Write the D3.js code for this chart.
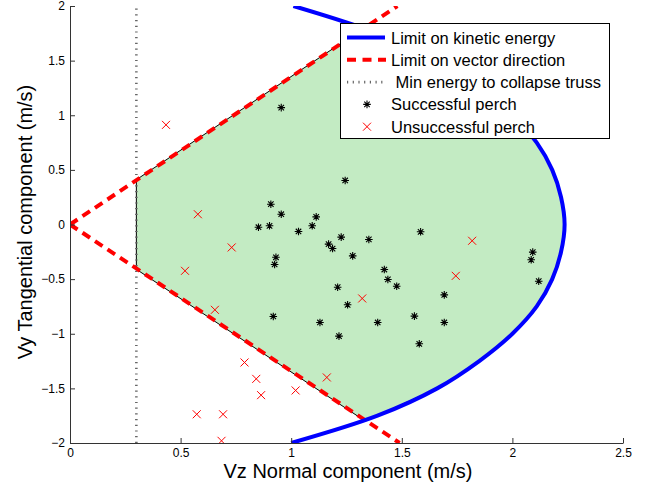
<!DOCTYPE html>
<html>
<head>
<meta charset="utf-8">
<script src="https://cdn.jsdelivr.net/npm/d3@7"></script>
<style>
body { margin: 0; background: #fff; }
svg { display: block; font-family: "Liberation Sans", Arial, sans-serif; }
</style>
</head>
<body>
<svg id="chart"></svg>
<script>
// chart values
var xTicks = [0, 0.5, 1, 1.5, 2, 2.5];
var xTickLabels = ["0", "0.5", "1", "1.5", "2", "2.5"];
var yTicks = [-2, -1.5, -1, -0.5, 0, 0.5, 1, 1.5, 2];
var yTickLabels = ["\u22122", "\u22121.5", "\u22121", "\u22120.5", "0", "0.5", "1", "1.5", "2"];

// limit on kinetic energy (blue)
var energyVy = [-2, -1.75, -1.5, -1.25, -1, -0.75, -0.5, -0.25, 0, 0.25, 0.5, 0.75, 1, 1.25, 1.5, 1.75, 2];
var energyVz = [1.0, 1.39, 1.66, 1.85, 2.0, 2.11, 2.18, 2.22, 2.236, 2.22, 2.18, 2.11, 2.0, 1.85, 1.66, 1.39, 1.01];

// limit on vector direction (red dashed)
var dirUpperVz = [0, 1.48], dirUpperVy = [0, 2];
var dirLowerVz = [0, 1.49], dirLowerVy = [0, -2];

// min energy to collapse truss (dotted)
var trussVz = [0.3, 0.3], trussVy = [-2, 2];

// feasible region (green)
var regionVz = [0.3, 1.33, 1.66, 1.85, 2.0, 2.11, 2.18, 2.22, 2.236, 2.22, 2.18, 2.11, 2.0, 1.85, 1.66, 1.335, 0.3];
var regionVy = [0.41, 1.80, 1.5, 1.25, 1, 0.75, 0.5, 0.25, 0, -0.25, -0.5, -0.75, -1, -1.25, -1.5, -1.80, -0.41];

// successful perch
var successVz = [0.955, 0.908, 0.955, 0.852, 0.902, 1.033, 1.095, 1.113, 1.169, 1.187, 1.244, 1.226, 1.351, 1.278, 1.585,
                 1.421, 1.437, 1.477, 1.21, 1.255, 1.692, 1.13, 1.391, 1.557, 1.692, 1.216, 1.579, 2.092, 2.085, 2.119,
                 0.931, 0.925, 0.919];
var successVy = [1.07, 0.186, 0.094, -0.025, -0.012, -0.064, -0.012, 0.07, -0.18, -0.22, 0.403, -0.116, -0.137, -0.287, -0.067,
                 -0.412, -0.503, -0.565, -0.574, -0.735, -0.644, -0.897, -0.897, -0.839, -0.897, -1.022, -1.092, -0.253, -0.323, -0.519,
                 -0.30, -0.366, -0.842];

// unsuccessful perch
var failVz = [0.434, 0.578, 0.731, 0.52, 0.655, 0.789, 0.842, 0.864, 1.02, 0.573, 0.692, 0.685, 1.161, 1.321, 1.744, 1.818];
var failVy = [0.912, 0.094, -0.21, -0.424, -0.781, -1.263, -1.413, -1.562, -1.519, -1.737, -1.737, -1.98, -1.40, -0.677, -0.47, -0.149];

var legendLabels = ["Limit on kinetic energy", "Limit on vector direction", " Min energy to collapse truss",
                    "Successful perch", "Unsuccessful perch"];

var width = 646, height = 487;
var svg = d3.select("#chart").attr("width", width).attr("height", height);
svg.append("rect").attr("width", width).attr("height", height).attr("fill", "#fff");

var x = d3.scaleLinear().domain([0, 2.5]).range([70, 623]);
var y = d3.scaleLinear().domain([-2, 2]).range([443, 6]);

svg.append("clipPath").attr("id", "plotclip")
    .append("rect").attr("x", 70).attr("y", 6).attr("width", 553).attr("height", 437);

var plot = svg.append("g").attr("clip-path", "url(#plotclip)");

function pts(vz, vy) {
    return vz.map(function (d, i) { return [d, vy[i]]; });
}
var line = d3.line().x(function (d) { return x(d[0]); }).y(function (d) { return y(d[1]); });

// green region with thin black edge
plot.append("path")
    .datum(pts(regionVz, regionVy))
    .attr("d", function (d) { return line(d) + "Z"; })
    .attr("fill", "#c3ebc3")
    .attr("stroke", "#000")
    .attr("stroke-width", 1);

// dotted truss line
plot.append("path")
    .datum(pts(trussVz, trussVy))
    .attr("d", line)
    .attr("stroke", "#666")
    .attr("stroke-width", 2.6)
    .attr("stroke-dasharray", "1.2,4.5")
    .attr("fill", "none");

// red dashed direction limits
[pts(dirUpperVz, dirUpperVy), pts(dirLowerVz, dirLowerVy)].forEach(function (seg) {
    plot.append("path")
        .datum(seg)
        .attr("d", line)
        .attr("stroke", "#ff0000")
        .attr("stroke-width", 4)
        .attr("stroke-dasharray", "9,6")
        .attr("fill", "none");
});

// blue energy limit
plot.append("path")
    .datum(pts(energyVz, energyVy))
    .attr("d", line.curve(d3.curveCatmullRom))
    .attr("stroke", "#0000ff")
    .attr("stroke-width", 4)
    .attr("fill", "none");
line.curve(d3.curveLinear);

// marker shapes
function starPath(r) {
    var a = r * 0.72;
    return "M" + (-r) + ",0L" + r + ",0M0," + (-r) + "L0," + r +
        "M" + (-a) + "," + (-a) + "L" + a + "," + a + "M" + (-a) + "," + a + "L" + a + "," + (-a);
}
function crossPath(r) {
    return "M" + (-r) + "," + (-r) + "L" + r + "," + r + "M" + (-r) + "," + r + "L" + r + "," + (-r);
}

plot.selectAll(".ok")
    .data(pts(successVz, successVy))
    .enter().append("path")
    .attr("class", "ok")
    .attr("transform", function (d) { return "translate(" + x(d[0]) + "," + y(d[1]) + ")"; })
    .attr("d", starPath(3.8))
    .attr("stroke", "#000")
    .attr("stroke-width", 1.1)
    .attr("fill", "none");

plot.selectAll(".fail")
    .data(pts(failVz, failVy))
    .enter().append("path")
    .attr("class", "fail")
    .attr("transform", function (d) { return "translate(" + x(d[0]) + "," + y(d[1]) + ")"; })
    .attr("d", crossPath(4))
    .attr("stroke", "#ff0000")
    .attr("stroke-width", 1)
    .attr("fill", "none");

// axes, ticks pointing inward
var xAxis = svg.append("g").attr("transform", "translate(0,443)")
    .call(d3.axisBottom(x).tickValues(xTicks)
        .tickFormat(function (d, i) { return xTickLabels[i]; })
        .tickSizeInner(-5).tickSizeOuter(0).tickPadding(5));
var yAxis = svg.append("g").attr("transform", "translate(70,0)")
    .call(d3.axisLeft(y).tickValues(yTicks)
        .tickFormat(function (d, i) { return yTickLabels[i]; })
        .tickSizeInner(-5).tickSizeOuter(0).tickPadding(5));
[xAxis, yAxis].forEach(function (g) {
    g.selectAll("path, line").attr("stroke", "#333");
    g.selectAll("text").attr("font-size", 12).attr("fill", "#000")
        .attr("font-family", "Liberation Sans, Arial, sans-serif");
});

// axis titles
svg.append("text")
    .attr("x", 348).attr("y", 478)
    .attr("text-anchor", "middle")
    .attr("font-size", 20)
    .text("Vz Normal component (m/s)");
svg.append("text")
    .attr("transform", "translate(32,222) rotate(-90)")
    .attr("text-anchor", "middle")
    .attr("font-size", 20)
    .text("Vy Tangential component (m/s)");

// legend
var legend = svg.append("g");
legend.append("rect")
    .attr("x", 340.5).attr("y", 23.5).attr("width", 269).attr("height", 115)
    .attr("fill", "#fff").attr("stroke", "#000").attr("stroke-width", 1);

var rowY = function (i) { return 37.5 + i * 22.3; };
legend.append("line").attr("x1", 347).attr("x2", 385).attr("y1", rowY(0)).attr("y2", rowY(0))
    .attr("stroke", "#0000ff").attr("stroke-width", 4);
legend.append("line").attr("x1", 347).attr("x2", 386).attr("y1", rowY(1)).attr("y2", rowY(1))
    .attr("stroke", "#ff0000").attr("stroke-width", 4).attr("stroke-dasharray", "9,6.5");
legend.append("line").attr("x1", 347).attr("x2", 386).attr("y1", rowY(2)).attr("y2", rowY(2))
    .attr("stroke", "#666").attr("stroke-width", 2.6).attr("stroke-dasharray", "1.2,4.5");
legend.append("path").attr("transform", "translate(367," + rowY(3) + ")")
    .attr("d", starPath(3.8)).attr("stroke", "#000").attr("stroke-width", 1.1).attr("fill", "none");
legend.append("path").attr("transform", "translate(367," + rowY(4) + ")")
    .attr("d", crossPath(4)).attr("stroke", "#ff0000").attr("stroke-width", 1).attr("fill", "none");

legend.selectAll(".lbl")
    .data(legendLabels)
    .enter().append("text")
    .attr("class", "lbl")
    .attr("x", 391)
    .attr("y", function (d, i) { return rowY(i) + 6; })
    .attr("font-size", 16.5)
    .style("white-space", "pre")
    .text(function (d) { return d; });
</script>
</body>
</html>
